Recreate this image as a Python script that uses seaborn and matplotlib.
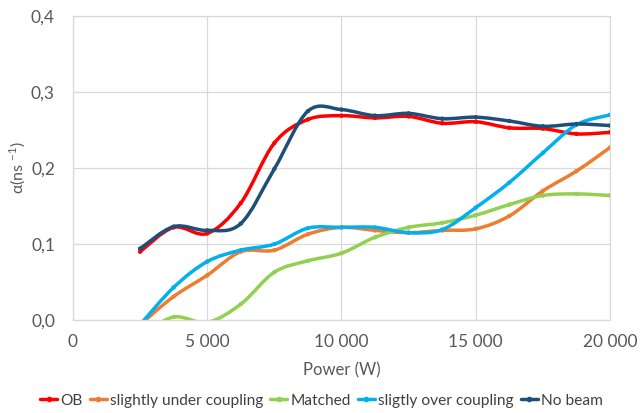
import numpy as np
import pandas as pd
import matplotlib
matplotlib.use("Agg")
import matplotlib.pyplot as plt
from matplotlib.path import Path
from matplotlib.patches import PathPatch
from matplotlib.lines import Line2D
from matplotlib.ticker import FuncFormatter
import seaborn as sns

sns.set_style("white")
plt.rcParams['font.family'] = ['Lato', 'DejaVu Sans']

# Data
power = [2500, 3750, 5000, 6250, 7500, 8750, 10000, 11250, 12500, 13750, 15000, 16250, 17500, 18750, 20000]
ob = [0.090, 0.122, 0.114, 0.154, 0.233, 0.264, 0.269, 0.266, 0.268, 0.259, 0.261, 0.253, 0.252, 0.245, 0.247]
under = [-0.006, 0.031, 0.059, 0.090, 0.092, 0.113, 0.122, 0.118, 0.115, 0.118, 0.120, 0.137, 0.170, 0.196, 0.227]
matched = [-0.020, 0.004, -0.003, 0.021, 0.063, 0.078, 0.088, 0.109, 0.122, 0.128, 0.138, 0.152, 0.164, 0.166, 0.164]
over = [-0.006, 0.043, 0.077, 0.092, 0.100, 0.121, 0.122, 0.122, 0.115, 0.119, 0.148, 0.181, 0.220, 0.257, 0.270]
no_beam = [0.094, 0.123, 0.118, 0.127, 0.199, 0.275, 0.277, 0.269, 0.272, 0.265, 0.267, 0.262, 0.255, 0.258, 0.256]

names = ['OB', 'slightly under coupling', 'Matched', 'sligtly over coupling', 'No beam']
series = [ob, under, matched, over, no_beam]
colors = ['#FF0000', '#ED7D31', '#92D050', '#00B0F0', '#1F4E79']

df = pd.DataFrame({
    'Power': power * len(names),
    'alpha': np.concatenate(series),
    'Series': np.repeat(names, len(power)),
})


def smooth_path(x, y):
    # Catmull-Rom style Bezier, like Excel's smoothed lines
    pts = np.column_stack([x, y]).astype(float)
    n = len(pts)
    verts = [pts[0]]
    codes = [Path.MOVETO]
    for i in range(n - 1):
        p0 = pts[i - 1] if i > 0 else pts[i]
        p1 = pts[i]
        p2 = pts[i + 1]
        p3 = pts[i + 2] if i + 2 < n else pts[i + 1]
        verts += [p1 + (p2 - p0) / 6, p2 - (p3 - p1) / 6, p2]
        codes += [Path.CURVE4] * 3
    return Path(verts, codes)


fig = plt.figure(figsize=(6.43, 4.13), dpi=100)
ax = fig.add_axes([0.1135, 0.225, 0.8352, 0.736])

for name, vals, c in zip(names, series, colors):
    ax.add_patch(PathPatch(smooth_path(power, vals), facecolor='none', edgecolor=c,
                           lw=2.5, capstyle='round', joinstyle='round'))

sns.scatterplot(data=df, x='Power', y='alpha', hue='Series', palette=colors,
                s=10, edgecolor='none', legend=False, ax=ax, zorder=3)

ax.set_xlim(0, 20000)
ax.set_ylim(0, 0.4)
ax.set_xticks([0, 5000, 10000, 15000, 20000])
ax.set_yticks([0, 0.1, 0.2, 0.3, 0.4])
ax.xaxis.set_major_formatter(FuncFormatter(lambda v, p: f"{int(v):,}".replace(',', ' ')))
ax.yaxis.set_major_formatter(FuncFormatter(lambda v, p: f"{v:.1f}".replace('.', ',')))
ax.grid(True, color='#d9d9d9', lw=0.9)
for s in ax.spines.values():
    s.set_color('#d9d9d9')
    s.set_linewidth(0.9)
ax.tick_params(axis='x', length=0, pad=10, labelsize=12.5, labelcolor='#595959')
ax.tick_params(axis='y', length=0, pad=13, labelsize=12.5, labelcolor='#595959')

ax.set_xlabel('Power (W)', fontsize=12, color='#595959', labelpad=9)
ax.set_ylabel(r'α(ns $^{\mathregular{-1}}$)', fontsize=11.5, color='#595959', labelpad=2)

handles = [Line2D([0], [0], color=c, lw=2.5, marker='o', markersize=3) for c in colors]
fig.legend(handles, names, loc='center', bbox_to_anchor=(0.5, 0.03), ncol=5, frameon=False,
           fontsize=11.2, handlelength=1.1, handletextpad=0.2, columnspacing=0.45,
           labelcolor='#404040')

fig.savefig('out.png', dpi=100)
